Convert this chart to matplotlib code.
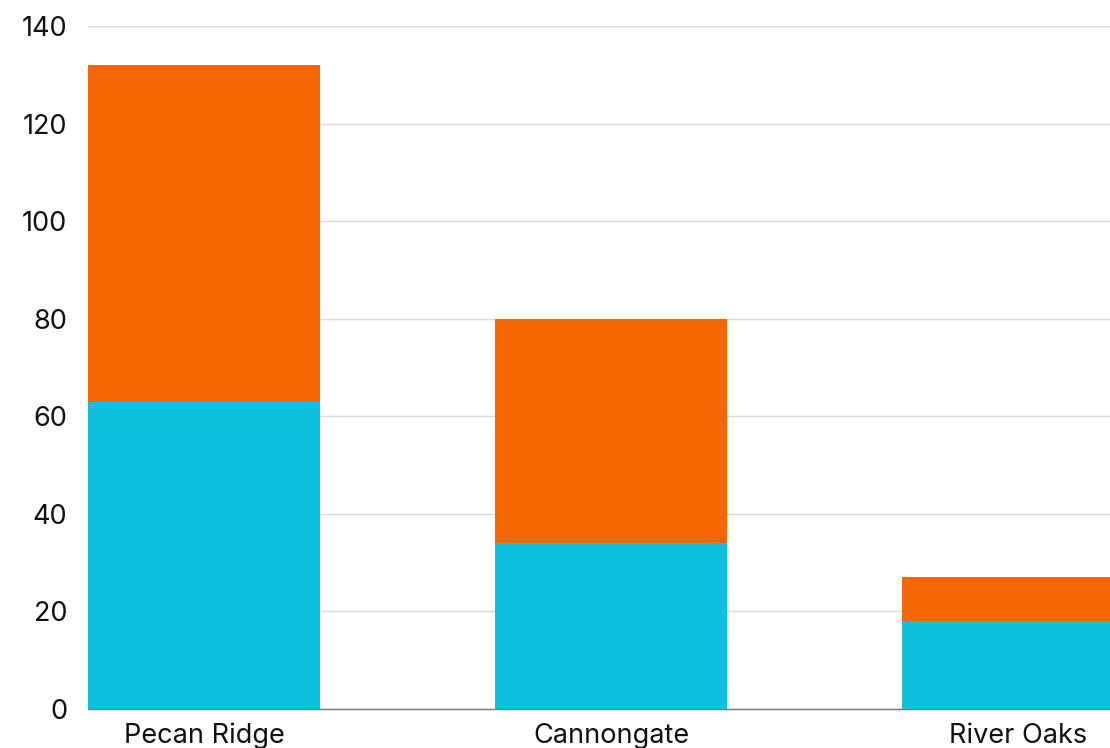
import matplotlib
matplotlib.use("Agg")
import matplotlib.pyplot as plt
import numpy as np

categories = ["Pecan Ridge", "Cannongate", "River Oaks"]
series_a = [63, 34, 18]
series_b = [69, 46, 9]
y_ticks = [0, 20, 40, 60, 80, 100, 120, 140]

color_a = "#0EC1DF"
color_b = "#F46700"

plt.rcParams["font.family"] = ["Inter", "DejaVu Sans"]

fig = plt.figure(figsize=(11.10, 7.48), dpi=100)
ax = fig.add_axes([88 / 1110, 39 / 748, 1022 / 1110, 683 / 748])

x = np.arange(len(categories))
width = 0.57
ax.bar(x, series_a, width=width, color=color_a, zorder=3)
ax.bar(x, series_b, width=width, bottom=series_a, color=color_b, zorder=3)

ax.set_xlim(-0.285, 2.226)
ax.set_ylim(0, 140)
ax.set_yticks(y_ticks)
ax.set_yticklabels([str(v) for v in y_ticks])
ax.set_xticks(x)
ax.set_xticklabels(categories)

ax.grid(axis="y", color="#D9D9D9", linewidth=1, zorder=0)
ax.set_axisbelow(True)
for side in ["top", "right", "left"]:
    ax.spines[side].set_visible(False)
ax.spines["bottom"].set_color("#767676")
ax.spines["bottom"].set_linewidth(1)
ax.spines["bottom"].set_zorder(2)

ax.tick_params(axis="y", length=0, pad=15, labelsize=19.5, labelcolor="#111111")
ax.tick_params(axis="x", length=0, pad=10, labelsize=19.5, labelcolor="#111111")

fig.savefig("out.png", dpi=100)
